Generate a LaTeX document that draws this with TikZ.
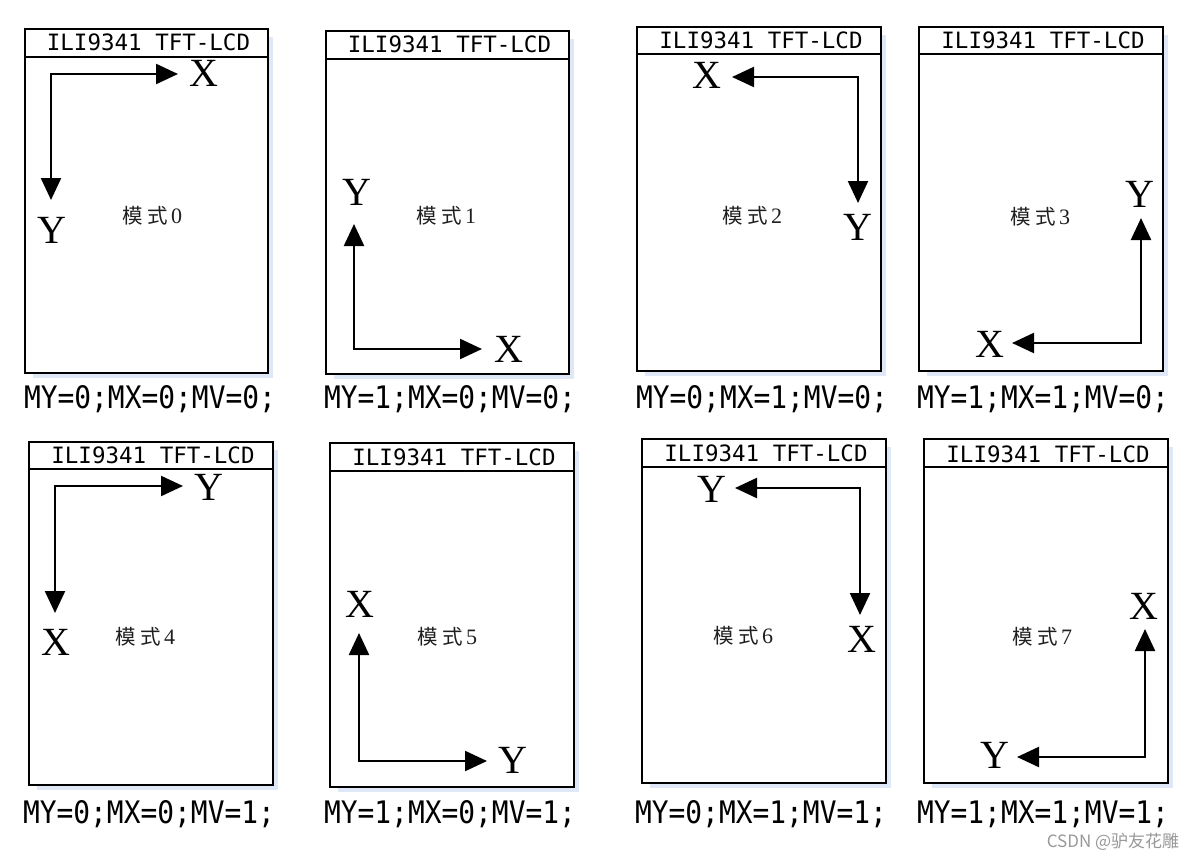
\documentclass[tikz,border=0pt]{standalone}
\usepackage{fontspec}
\usetikzlibrary{arrows.meta}
\setmainfont{Liberation Serif}
\newfontfamily\hdrfont{DejaVu Sans Mono}
\newfontfamily\capfont[FakeStretch=0.9]{DejaVu Sans Mono}
\newfontfamily\cjkfont{Noto Sans CJK SC}
\definecolor{shadowblue}{RGB}{222,232,246}
\tikzset{
  boxline/.style={draw=black, line width=2pt},
  shadowline/.style={draw=shadowblue, line width=4pt},
  hdr/.style={font=\hdrfont\fontsize{22.5}{26}\selectfont, inner sep=0pt, anchor=base},
  caption/.style={font=\capfont\fontsize{31}{34}\selectfont, inner sep=0pt, anchor=base},
  axlbl/.style={font=\rmfamily\fontsize{40}{44}\selectfont, inner sep=0pt, anchor=base},
  modelbl/.style={font=\cjkfont\fontsize{20.5}{24}\selectfont, text=black!88, inner sep=0pt},
  axis/.style={line width=2.3pt, {Triangle[length=22pt,width=20pt]}-{Triangle[length=22pt,width=20pt]}},
  wm/.style={font=\cjkfont\fontsize{17}{20}\selectfont, text=black!40, inner sep=0pt}
}
\newcommand\mdigit[1]{{\rmfamily\fontsize{22}{24}\selectfont #1}}
% #1 name, #2 left, #3 top, #4 right, #5 header line, #6 bottom, #7 header baseline
\newcommand\lcdpanel[7]{%
  \draw[shadowline] (#4+2.5,#3+8) -- (#4+2.5,#6+2.5) -- (#2+8,#6+2.5);
  \draw[boxline] (#2,#3) rectangle (#4,#6);
  \draw[boxline] (#2,#5) -- (#4,#5);
  \node[hdr] (#1h) at ({(#2+#4)/2+2},#7) {ILI9341 TFT-LCD};
}
\begin{document}
\begin{tikzpicture}[x=1pt,y=-1pt]
\useasboundingbox (0,0) rectangle (1196,856);
\fill[white] (0,0) rectangle (1196,856);

% ---------- Mode 0
\lcdpanel{p0}{25}{29}{268}{57}{373}{51}
\coordinate (p0c) at (51,74);
\coordinate (p0a) at (178,74);
\coordinate (p0b) at (51,200);
\draw[axis] (p0a) -- (p0c) -- (p0b);
\node[axlbl] (p0x) at (204,87) {X};
\node[axlbl] (p0y) at (52,243) {Y};
\node[modelbl] (p0m) at (152,216) {模\hspace{5pt}式\hspace{3pt}\mdigit{0}};
\node[caption] (p0cap) at (150,408) {MY=0;MX=0;MV=0;};

% ---------- Mode 1
\lcdpanel{p1}{326}{31}{569}{59}{374}{53}
\coordinate (p1c) at (354,349);
\coordinate (p1a) at (354,224);
\coordinate (p1b) at (482,349);
\draw[axis] (p1a) -- (p1c) -- (p1b);
\node[axlbl] (p1y) at (357,205) {Y};
\node[axlbl] (p1x) at (509,362) {X};
\node[modelbl] (p1m) at (446,216) {模\hspace{5pt}式\hspace{3pt}\mdigit{1}};
\node[caption] (p1cap) at (450,408) {MY=1;MX=0;MV=0;};

% ---------- Mode 2
\lcdpanel{p2}{637}{27}{881}{54}{371}{49}
\coordinate (p2c) at (858,77);
\coordinate (p2a) at (732,77);
\coordinate (p2b) at (858,203);
\draw[axis] (p2a) -- (p2c) -- (p2b);
\node[axlbl] (p2x) at (707,89) {X};
\node[axlbl] (p2y) at (858,240) {Y};
\node[modelbl] (p2m) at (752,216) {模\hspace{5pt}式\hspace{3pt}\mdigit{2}};
\node[caption] (p2cap) at (762,408) {MY=0;MX=1;MV=0;};

% ---------- Mode 3
\lcdpanel{p3}{919}{27}{1163}{54}{371}{49}
\coordinate (p3c) at (1141,343);
\coordinate (p3a) at (1141,218);
\coordinate (p3b) at (1012,343);
\draw[axis] (p3a) -- (p3c) -- (p3b);
\node[axlbl] (p3y) at (1140,207) {Y};
\node[axlbl] (p3x) at (990,357) {X};
\node[modelbl] (p3m) at (1040,217) {模\hspace{5pt}式\hspace{3pt}\mdigit{3}};
\node[caption] (p3cap) at (1043,408) {MY=1;MX=1;MV=0;};

% ---------- Mode 4
\lcdpanel{p4}{29}{442}{273}{469}{785}{463}
\coordinate (p4c) at (55,486);
\coordinate (p4a) at (183,486);
\coordinate (p4b) at (55,613);
\draw[axis] (p4a) -- (p4c) -- (p4b);
\node[axlbl] (p4y) at (209,500) {Y};
\node[axlbl] (p4x) at (56,655) {X};
\node[modelbl] (p4m) at (145,637) {模\hspace{5pt}式\hspace{3pt}\mdigit{4}};
\node[caption] (p4cap) at (149,823) {MY=0;MX=0;MV=1;};

% ---------- Mode 5
\lcdpanel{p5}{330}{443}{574}{471}{787}{465}
\coordinate (p5c) at (359,761);
\coordinate (p5a) at (359,633);
\coordinate (p5b) at (487,761);
\draw[axis] (p5a) -- (p5c) -- (p5b);
\node[axlbl] (p5x) at (360,617) {X};
\node[axlbl] (p5y) at (513,773) {Y};
\node[modelbl] (p5m) at (447,637) {模\hspace{5pt}式\hspace{3pt}\mdigit{5}};
\node[caption] (p5cap) at (450,823) {MY=1;MX=0;MV=1;};

% ---------- Mode 6
\lcdpanel{p6}{642}{439}{886}{467}{783}{461}
\coordinate (p6c) at (860,488);
\coordinate (p6a) at (735,488);
\coordinate (p6b) at (860,615);
\draw[axis] (p6a) -- (p6c) -- (p6b);
\node[axlbl] (p6y) at (712,502) {Y};
\node[axlbl] (p6x) at (862,652) {X};
\node[modelbl] (p6m) at (743,636) {模\hspace{5pt}式\hspace{3pt}\mdigit{6}};
\node[caption] (p6cap) at (761,823) {MY=0;MX=1;MV=1;};

% ---------- Mode 7
\lcdpanel{p7}{924}{439}{1168}{467}{783}{462}
\coordinate (p7c) at (1145,757);
\coordinate (p7a) at (1145,629);
\coordinate (p7b) at (1017,757);
\draw[axis] (p7a) -- (p7c) -- (p7b);
\node[axlbl] (p7x) at (1144,619) {X};
\node[axlbl] (p7y) at (995,768) {Y};
\node[modelbl] (p7m) at (1042,637) {模\hspace{5pt}式\hspace{3pt}\mdigit{7}};
\node[caption] (p7cap) at (1043,823) {MY=1;MX=1;MV=1;};

% watermark
\node[wm] (wmark) at (1113,842) {CSDN @驴友花雕};
\end{tikzpicture}
\end{document}
